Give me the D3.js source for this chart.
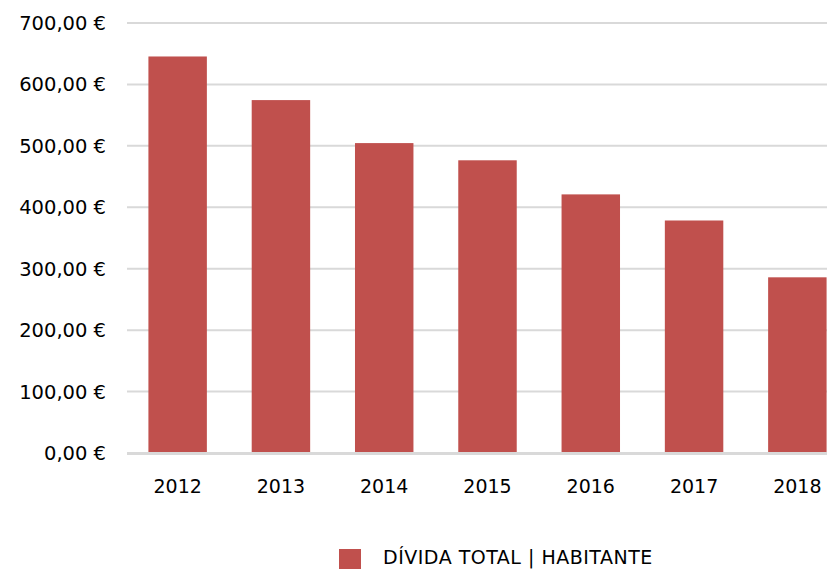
<!DOCTYPE html>
<html>
<head>
<meta charset="utf-8">
<script src="https://cdn.jsdelivr.net/npm/d3@7"></script>
<style>
  body { margin: 0; background: #fff; }
  svg text { font-family: "DejaVu Sans", sans-serif; fill: #000; }
</style>
</head>
<body>
<div id="chart"></div>
<script>
// data
var years = ["2012", "2013", "2014", "2015", "2016", "2017", "2018"];
var debtPerInhabitant = [645.5, 574.5, 504.5, 476.5, 421, 378.5, 286];
var yTicks = [0, 100, 200, 300, 400, 500, 600, 700];
var seriesName = "DÍVIDA TOTAL | HABITANTE";

var width = 827, height = 569;

var svg = d3.select("#chart").append("svg")
    .attr("width", width)
    .attr("height", height);

var x = d3.scaleBand()
    .domain(years)
    .range([126, 849])
    .paddingInner(0.434)
    .paddingOuter(0.217);

var y = d3.scaleLinear()
    .domain([0, 700])
    .range([453, 23]);

var fmt = function(v) { return d3.format(".2f")(v).replace(".", ",") + " €"; };

// gridlines
svg.append("g").selectAll("line")
    .data(yTicks.filter(function(d) { return d > 0; }))
    .enter().append("line")
    .attr("x1", 127).attr("x2", width)
    .attr("y1", function(d) { return y(d); })
    .attr("y2", function(d) { return y(d); })
    .attr("stroke", "#d9d9d9")
    .attr("stroke-width", 2);

// y labels
svg.append("g").selectAll("text")
    .data(yTicks)
    .enter().append("text")
    .attr("x", 106)
    .attr("y", function(d) { return y(d) + 7; })
    .attr("text-anchor", "end")
    .style("font-size", "19.5px")
    .text(fmt);

// bars
svg.append("g").selectAll("rect")
    .data(debtPerInhabitant)
    .enter().append("rect")
    .attr("x", function(d, i) { return x(years[i]); })
    .attr("y", function(d) { return y(d); })
    .attr("width", x.bandwidth())
    .attr("height", function(d) { return y(0) - y(d); })
    .attr("fill", "#c0504d");

// baseline
svg.append("line")
    .attr("x1", 127).attr("x2", width)
    .attr("y1", y(0) + 0.5).attr("y2", y(0) + 0.5)
    .attr("stroke", "#d9d9d9")
    .attr("stroke-width", 3);

// x labels
svg.append("g").selectAll("text")
    .data(years)
    .enter().append("text")
    .attr("x", function(d) { return x(d) + x.bandwidth() / 2; })
    .attr("y", 493)
    .attr("text-anchor", "middle")
    .style("font-size", "19px")
    .text(function(d) { return d; });

// legend
svg.append("rect")
    .attr("x", 339).attr("y", 549)
    .attr("width", 22).attr("height", 20)
    .attr("fill", "#c0504d");
svg.append("text")
    .attr("x", 383).attr("y", 564)
    .style("font-size", "19px")
    .style("letter-spacing", "0.5px")
    .text(seriesName);
</script>
</body>
</html>
